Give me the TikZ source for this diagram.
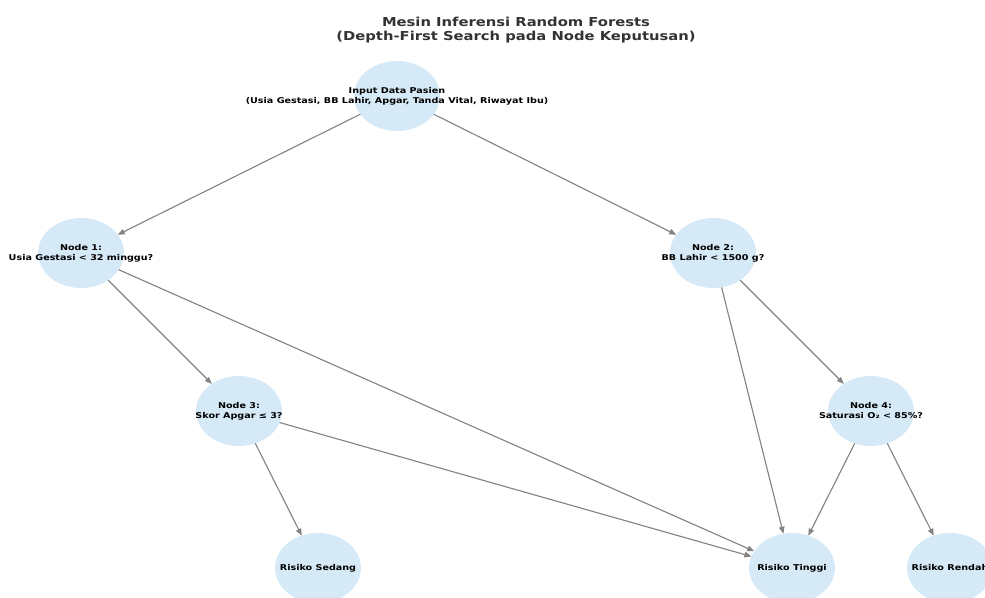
\documentclass[tikz,border=0pt]{standalone}
\usepackage{fontspec}
\setmainfont[FakeStretch=1.2]{DejaVu Sans}
\usetikzlibrary{shapes.geometric,arrows.meta}
\definecolor{nodefill}{HTML}{D6E9F7}
\definecolor{edgecol}{HTML}{828282}
\definecolor{titlecol}{HTML}{333333}
\tikzset{
  bubble/.style={ellipse,fill=nodefill,draw=none,minimum width=86pt,minimum height=70pt,inner sep=0pt,outer sep=0pt},
  lbl/.style={font=\fontsize{8}{10}\selectfont\bfseries,align=center,inner sep=0pt,text=black},
  edge/.style={draw=edgecol,line width=1.1pt,-{Triangle[length=7pt,width=5.5pt]}},
  ttl/.style={font=\fontsize{12.3}{14}\selectfont\bfseries,align=center,inner sep=0pt,text=titlecol}
}
\begin{document}
\begin{tikzpicture}[x=1pt,y=-1pt]
\clip (0,0) rectangle (985,597);
\fill[white] (0,0) rectangle (985,597);
\node[ttl] (title) at (516,30) {Mesin Inferensi Random Forests\\(Depth-First Search pada Node Keputusan)};
\node[bubble] (in) at (397,96) {};
\node[bubble] (n1) at (81,253) {};
\node[bubble] (n2) at (713,253) {};
\node[bubble] (n3) at (239,411) {};
\node[bubble] (n4) at (871,411) {};
\node[bubble] (rs) at (318,568) {};
\node[bubble] (rt) at (792,568) {};
\node[bubble] (rr) at (950,568) {};
\node[lbl] (int) at (in) {Input Data Pasien\\(Usia Gestasi, BB Lahir, Apgar, Tanda Vital, Riwayat Ibu)};
\node[lbl] (n1t) at (n1) {Node 1:\\Usia Gestasi < 32 minggu?};
\node[lbl] (n2t) at (n2) {Node 2:\\BB Lahir < 1500 g?};
\node[lbl] (n3t) at (n3) {Node 3:\\Skor Apgar ≤ 3?};
\node[lbl] (n4t) at (n4) {Node 4:\\Saturasi O₂ < 85\%?};
\node[lbl] (rst) at (rs) {Risiko Sedang};
\node[lbl] (rtt) at (rt) {Risiko Tinggi};
\node[lbl] (rrt) at (rr) {Risiko Rendah};
\draw[edge] (in) -- (n1);
\draw[edge] (in) -- (n2);
\draw[edge] (n1) -- (n3);
\draw[edge] (n1) -- (rt);
\draw[edge] (n2) -- (rt);
\draw[edge] (n2) -- (n4);
\draw[edge] (n3) -- (rs);
\draw[edge] (n3) -- (rt);
\draw[edge] (n4) -- (rt);
\draw[edge] (n4) -- (rr);
\end{tikzpicture}
\end{document}
